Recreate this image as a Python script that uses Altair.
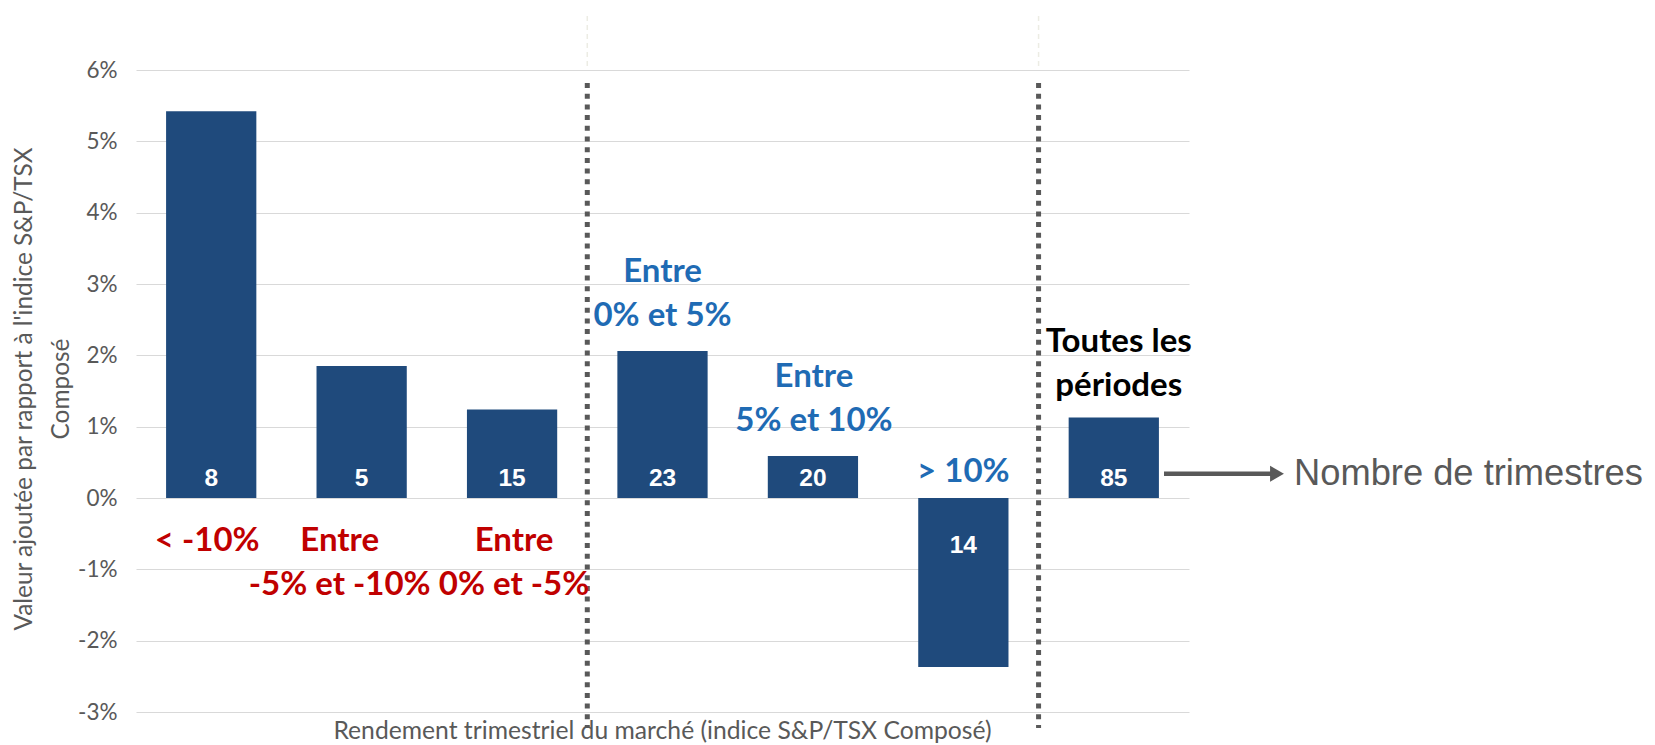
import altair as alt
import pandas as pd

# ---- data ----
categories = ["< -10%", "Entre -5% et -10%", "Entre 0% et -5%", "Entre 0% et 5%",
              "Entre 5% et 10%", "> 10%", "Toutes les périodes"]
label_texts = ["< -10%", "Entre\n-5% et -10%", "Entre\n0% et -5%", "Entre\n0% et 5%",
               "Entre\n5% et 10%", "> 10%", "Toutes les\npériodes"]
values = [0.0542, 0.0185, 0.0124, 0.0206, 0.0059, -0.0237, 0.0113]
counts = [8, 5, 15, 23, 20, 14, 85]
y_ticks = [-0.03, -0.02, -0.01, 0.0, 0.01, 0.02, 0.03, 0.04, 0.05, 0.06]
y_title = "Valeur ajoutée par rapport à l'indice S&P/TSX\nComposé"
x_title = "Rendement trimestriel du marché (indice S&P/TSX Composé)"
note_text = "Nombre de trimestres"
group_breaks = [3, 6]  # separators after the 3rd and 6th category

# ---- layout / style ----
W, H = 1053, 642
GRAY = "#595959"
BAR = "#1F4A7C"
RED = "#C00000"
BLUE = "#1F6BB4"
CAL = "Lato"
ARIAL = "Liberation Sans"

# per-label style: (color, anchor, dx, dy)
label_style = [
    (RED, "zero", -4, 53),
    (RED, "zero", -22, 53),
    (RED, "zero", 2, 53),
    (BLUE, "top", 0, -69),
    (BLUE, "top", 1, -69),
    (BLUE, "top", 0, -16),
    ("#000000", "top", 5, -65),
]

df = pd.DataFrame({"cat": categories, "value": values, "count": counts, "label": label_texts})
df["top"] = df["value"].clip(lower=0)
one = pd.DataFrame({"k": [0]})

x_enc = alt.X("cat:N", sort=categories,
              scale=alt.Scale(paddingInner=0.4, paddingOuter=0.2), axis=None)
y_scale = alt.Scale(domain=[-0.03, 0.06], nice=False)

base = alt.Chart(df)

bars = base.mark_bar(color=BAR).encode(
    x=x_enc,
    y=alt.Y("value:Q", scale=y_scale, title=None,
            axis=alt.Axis(values=y_ticks, grid=True, gridColor="#D9D9D9",
                          labelExpr="(datum.value < 0 ? '-' : '') + format(abs(datum.value) * 100, '.0f') + '%'",
                          gridWidth=1.2, domain=False, ticks=False, labelPadding=19,
                          labelFont=CAL, labelFontSize=22.5, labelColor=GRAY)),
)

cnt_pos = base.transform_filter("datum.value >= 0").mark_text(
    font=ARIAL, fontWeight="bold", fontSize=24.5, color="white", baseline="alphabetic", dy=-12
).encode(x=x_enc, y=alt.datum(0), text="count:Q")

cnt_neg = base.transform_filter("datum.value < 0").mark_text(
    font=ARIAL, fontWeight="bold", fontSize=24.5, color="white", baseline="alphabetic", dy=55
).encode(x=x_enc, y=alt.datum(0), text="count:Q")

label_layers = []
for cat, (col, anchor, dx, dy) in zip(categories, label_style):
    yenc = alt.datum(0) if anchor == "zero" else alt.Y("top:Q", title=None)
    label_layers.append(
        base.transform_filter(alt.datum.cat == cat).mark_text(
            font=CAL, fontWeight="bold", fontSize=33, color=col, lineBreak="\n",
            lineHeight=44, baseline="alphabetic", align="center", dx=dx, dy=dy
        ).encode(x=x_enc, y=yenc, text="label:N")
    )

sep_layers = []
for b in group_breaks:
    xp = b * W / 7
    sep_layers.append(alt.Chart(one).mark_rule(
        color=GRAY, strokeWidth=5, strokeDash=[5, 5.7], strokeCap="butt"
    ).encode(x=alt.value(xp), y=alt.value(13), y2=alt.value(658)))
    sep_layers.append(alt.Chart(one).mark_rule(
        color="#ECECE4", strokeWidth=1.5, strokeDash=[5, 4]
    ).encode(x=alt.value(xp), y=alt.value(-54), y2=alt.value(0)))

arrow_line = alt.Chart(one).mark_rule(color=GRAY, strokeWidth=4.5).encode(
    x=alt.value(1028), x2=alt.value(1136), y=alt.datum(0.0034))
arrow_head = alt.Chart(one).mark_point(
    shape="triangle-right", filled=True, color=GRAY, size=256, opacity=1
).encode(x=alt.value(1141), y=alt.datum(0.0034))
note = alt.Chart(one).mark_text(
    text=note_text, font=ARIAL, fontSize=36.3, color=GRAY, align="left", baseline="middle"
).encode(x=alt.value(1158), y=alt.datum(0.0034))

ytitle = alt.Chart(one).mark_text(
    text=y_title, font=CAL, fontSize=24.4, color=GRAY, angle=270, lineBreak="\n",
    lineHeight=37, align="center", baseline="alphabetic"
).encode(x=alt.value(-104), y=alt.value(H / 2 - 2))

xtitle = alt.Chart(one).mark_text(
    text=x_title, font=CAL, fontSize=24.7, color=GRAY, align="center", baseline="alphabetic"
).encode(x=alt.value(W / 2), y=alt.value(669))

chart = alt.layer(
    bars, *sep_layers, cnt_pos, cnt_neg, *label_layers, arrow_line, arrow_head, note, ytitle, xtitle
).properties(
    width=W, height=H,
    autosize=alt.AutoSizeParams(type="none"),
    padding={"left": 128, "top": 62, "right": 457, "bottom": 36},
).configure_view(strokeWidth=0)

chart.save("out.html", embed_options={"renderer": "svg", "actions": False})
